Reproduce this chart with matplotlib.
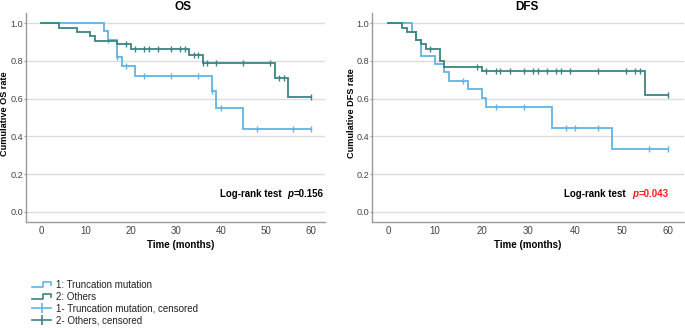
import numpy as np
import matplotlib
matplotlib.use("Agg")
import matplotlib.pyplot as plt
from matplotlib.lines import Line2D
from matplotlib.legend_handler import HandlerBase
from matplotlib.offsetbox import TextArea, HPacker, AnchoredOffsetbox

plt.rcParams['font.family'] = ['Liberation Sans', 'DejaVu Sans']

# ---------------- data ----------------
os_trunc_t = [0, 14, 15, 17, 18, 21, 38, 39, 45]
os_trunc_s = [1.0, 0.957, 0.912, 0.823, 0.775, 0.720, 0.641, 0.549, 0.440]
os_trunc_cens = [15, 17, 19, 23, 29, 35, 38, 40, 48, 56, 60]

os_other_t = [0, 4, 8, 11, 12, 17, 20, 33, 36, 52, 55]
os_other_s = [1.0, 0.975, 0.952, 0.930, 0.908, 0.888, 0.862, 0.830, 0.788, 0.708, 0.607]
os_other_cens = [19, 21, 23, 24, 26, 29, 31, 32, 34, 35, 36, 37, 39, 45, 51, 53, 54, 60]

dfs_trunc_t = [0, 5, 6, 7, 10, 12, 13, 17, 20, 21, 35, 48]
dfs_trunc_s = [1.0, 0.952, 0.911, 0.826, 0.782, 0.740, 0.695, 0.651, 0.602, 0.557, 0.443, 0.333]
dfs_trunc_cens = [16, 23, 29, 38, 40, 45, 56, 60]

dfs_other_t = [0, 3, 4, 6, 7, 8, 11, 12, 20, 55]
dfs_other_s = [1.0, 0.975, 0.952, 0.911, 0.888, 0.865, 0.798, 0.770, 0.747, 0.622]
dfs_other_cens = [9, 19, 21, 23, 24, 26, 29, 31, 32, 34, 36, 37, 39, 45, 51, 53, 54, 60]

panel_titles = ["OS", "DFS"]
y_labels = ["Cumulative OS rate", "Cumulative DFS rate"]
p_values = ["0.156", "0.043"]
x_ticks = [0, 10, 20, 30, 40, 50, 60]
y_ticks = [0.0, 0.2, 0.4, 0.6, 0.8, 1.0]
legend_labels = ["1: Truncation mutation", "2: Others",
                 "1- Truncation mutation, censored", "2- Others, censored"]

C_TRUNC = '#5fb4e6'
C_OTHER = '#3c8483'
GRID = '#dcdcdc'
SPINE = '#9a9a9a'

W, H = 685, 328
fig = plt.figure(figsize=(W / 100, H / 100), dpi=100)


def ax_rect(x0, x1, ytop, ybot):
    return [x0 / W, 1 - ybot / H, (x1 - x0) / W, (ybot - ytop) / H]


ax1 = fig.add_axes(ax_rect(26, 325, 13.3, 222.3))
ax2 = fig.add_axes(ax_rect(372.3, 684, 13.3, 222.3))


def step_value(t_arr, s_arr, t):
    idx = np.searchsorted(np.asarray(t_arr), t, side='right') - 1
    return np.asarray(s_arr)[idx]


def draw_km(ax, t, s, cens, color):
    end = max(cens)
    tt = list(t) + [end]
    ss = list(s) + [s[-1]]
    ax.step(tt, ss, where='post', color=color, lw=1.3, solid_joinstyle='miter')
    cy = [step_value(t, s, c) for c in cens]
    ax.plot(cens, cy, linestyle='none', marker='|', ms=4.5, mew=1.0, color=color)


panels = [
    (ax1, (os_trunc_t, os_trunc_s, os_trunc_cens), (os_other_t, os_other_s, os_other_cens),
     (-3.34, 63.2)),
    (ax2, (dfs_trunc_t, dfs_trunc_s, dfs_trunc_cens), (dfs_other_t, dfs_other_s, dfs_other_cens),
     (-3.43, 63.4)),
]

for i, (ax, tr, ot, xl) in enumerate(panels):
    for y in y_ticks:
        ax.axhline(y, color=GRID, lw=1.0, zorder=0)
    draw_km(ax, *tr, C_TRUNC)
    draw_km(ax, *ot, C_OTHER)
    ax.set_xlim(*xl)
    ax.set_ylim(-0.056, 1.053)
    ax.set_xticks(x_ticks)
    ax.set_yticks(y_ticks)
    ax.set_yticklabels([f"{v:.1f}" for v in y_ticks])
    ax.tick_params(axis='x', length=0, pad=3, labelsize=7, labelcolor='#444444')
    ax.tick_params(axis='y', length=1.5, width=0.8, color=SPINE, pad=0.6, labelsize=6.6,
                   labelcolor='#444444')
    for sp in ['top', 'right']:
        ax.spines[sp].set_visible(False)
    for sp in ['left', 'bottom']:
        ax.spines[sp].set_color(SPINE)
        ax.spines[sp].set_linewidth(1.0)
    ax.set_ylabel(y_labels[i], fontsize=6.6, fontweight='bold')
    ax.set_xlabel("Time (months)", fontsize=7, fontweight='bold')

ax1.yaxis.set_label_coords(-0.056, 0.52)
ax2.yaxis.set_label_coords(-0.052, 0.52)
ax1.xaxis.set_label_coords(0.518, -0.085)
ax2.xaxis.set_label_coords(0.497, -0.085)

fig.text(183.3 / W, 1 - 10.5 / H, panel_titles[0], fontsize=8.5, fontweight='bold',
         ha='center', va='baseline')
fig.text(526.7 / W, 1 - 10.5 / H, panel_titles[1], fontsize=8.5, fontweight='bold',
         ha='center', va='baseline')


def logrank(ax, xpos, pval, pcolor):
    base = dict(fontsize=7, fontweight='bold', color='black')
    pp = dict(fontsize=7, fontweight='bold', style='italic', color=pcolor)
    vv = dict(fontsize=7, fontweight='bold', color=pcolor)
    box = HPacker(children=[TextArea("Log-rank test  ", textprops=base),
                            TextArea("p", textprops=pp),
                            TextArea("=" + pval, textprops=vv)],
                  align='baseline', pad=0, sep=0.5)
    ab = AnchoredOffsetbox(loc='center right', child=box, pad=0, borderpad=0, frameon=False,
                           bbox_to_anchor=(xpos, 0.094), bbox_transform=ax.transData)
    ax.add_artist(ab)


logrank(ax1, 63.0, p_values[0], 'black')
logrank(ax2, 60.2, p_values[1], '#ff1a1a')


class StepHandler(HandlerBase):
    def create_artists(self, legend, orig_handle, xdescent, ydescent, width, height,
                       fontsize, trans):
        x0 = -xdescent
        y0 = -ydescent
        xs = [x0, x0 + 0.55 * width, x0 + 0.55 * width, x0 + width, x0 + width]
        ys = [y0 + 0.15 * height, y0 + 0.15 * height, y0 + 0.85 * height,
              y0 + 0.85 * height, y0 + 0.45 * height]
        ln = Line2D(xs, ys, color=orig_handle.get_color(), lw=1.2, transform=trans)
        return [ln]


h1 = Line2D([], [], color=C_TRUNC)
h2 = Line2D([], [], color=C_OTHER)
h3 = Line2D([], [], color=C_TRUNC, lw=1.2, marker='|', ms=7, mew=1.2)
h4 = Line2D([], [], color=C_OTHER, lw=1.2, marker='|', ms=7, mew=1.2)

leg = fig.legend([h1, h2, h3, h4], legend_labels, loc='upper left',
                 bbox_to_anchor=(32 / W, 1 - 280 / H), frameon=False, fontsize=7,
                 handlelength=2.0, handletextpad=0.5, labelspacing=0.2, borderpad=0,
                 borderaxespad=0, handler_map={h1: StepHandler(), h2: StepHandler()})
for t in leg.get_texts():
    t.set_color('#222222')

fig.savefig("out.png", dpi=100)
